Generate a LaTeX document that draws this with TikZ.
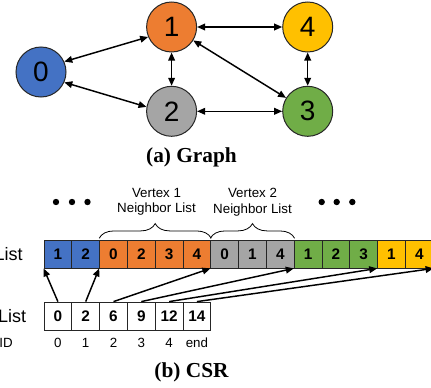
\documentclass[tikz,border=0pt]{standalone}
\usepackage{fontspec}
\setmainfont{Liberation Serif}
\setsansfont{Liberation Sans}
\usetikzlibrary{arrows.meta,decorations.pathreplacing}
\definecolor{vblue}{HTML}{4472C4}
\definecolor{vorange}{HTML}{ED7D31}
\definecolor{vgray}{HTML}{A5A5A5}
\definecolor{vgreen}{HTML}{70AD47}
\definecolor{vyellow}{HTML}{FFC000}
\begin{document}
\begin{tikzpicture}[x=0.75pt,y=0.75pt,font=\sffamily,
 vertex/.style={circle,draw=black!85,line width=0.75pt,minimum size=37.5pt,inner sep=0pt,font=\sffamily\fontsize{21}{21}\selectfont},
 edge/.style={{Triangle[length=6pt,width=5pt]}-{Triangle[length=6pt,width=5pt]},line width=1.1pt},
 ptr/.style={-{Triangle[length=6pt,width=5pt]},line width=1.1pt},
 cell/.style={draw=black!85,line width=0.6pt,minimum width=20.85pt,minimum height=21pt,inner sep=0pt,font=\sffamily\bfseries\fontsize{11.5}{12}\selectfont},
 caption/.style={font=\rmfamily\bfseries\fontsize{16}{16}\selectfont},
 side/.style={anchor=east,inner sep=0pt},
 nbrace/.style={decorate,decoration={brace,amplitude=11pt},line width=0.6pt},
 blabel/.style={align=center,font=\sffamily\fontsize{10}{11.6}\selectfont}]
\useasboundingbox (0,0) rectangle (431,387);
%graph
	%vertices
	\node[vertex,fill=vblue] (n0) at (41,315) {0};
	\node[vertex,fill=vorange] (n1) at (171.6,360) {1};
	\node[vertex,fill=vgray] (n2) at (171.6,275.7) {2};
	\node[vertex,fill=vgreen] (n3) at (307.7,275.7) {3};
	\node[vertex,fill=vyellow] (n4) at (307.7,360) {4};
	%edges
	\draw[edge] (n0.24) -- (n1.203); %0-1
	\draw[edge] (n0.336) -- (n2.170); %0-2
	\draw[edge] (n1) -- (n2); %1-2
	\draw[edge] (n1) -- (n4); %1-4
	\draw[edge] (n1) -- (n3); %1-3
	\draw[edge] (n2) -- (n3); %2-3
	\draw[edge] (n4) -- (n3); %4-3
	\node[caption] (capa) at (191.5,230) {(a) Graph}; %caption a
%CSR-------------------------------
	%neighbor list
	\foreach \val/\col [count=\k from 0] in {1/vblue,2/vblue,0/vorange,2/vorange,3/vorange,4/vorange,0/vgray,1/vgray,4/vgray,1/vgreen,2/vgreen,3/vgreen,1/vyellow,4/vyellow}
		\node[cell,fill=\col] (e\k) at (57.9+27.8*\k,133) {\val};
	%offset list
	\foreach \val [count=\k from 0] in {0,2,6,9,12,14}
		\node[cell,fill=white] (o\k) at (57.9+27.8*\k,71) {\val};
	%vertex ids
	\foreach \val [count=\k from 0] in {0,1,2,3,4,end}
		\node[font=\sffamily\fontsize{10}{10}\selectfont] (id\k) at (57.9+27.8*\k,44) {\val};
	%row labels
	\node[side,font=\sffamily\fontsize{13.5}{14}\selectfont] (lnbr) at (23,133) {List};
	\node[side,font=\sffamily\fontsize{13.5}{14}\selectfont] (loff) at (26.5,71) {List};
	\node[side,font=\sffamily\fontsize{10}{10}\selectfont] (lid) at (13,44) {ID};
	%braces
	\draw[nbrace] ([yshift=1pt]e2.north west) -- ([yshift=1pt]e5.north east);
	\draw[nbrace] ([yshift=1pt]e6.north west) -- ([yshift=1pt]e8.north east);
	\node[blabel] (v1) at (156.5,185) {Vertex 1\\Neighbor List}; %vertex 1
	\node[blabel] (v2) at (252.5,185) {Vertex 2\\Neighbor List}; %vertex 2
	%dots
	\foreach \x in {56,72,87.5,321.7,336.7,352.3}
		\fill (\x,185) circle (3.2);
	%offset arrows
	\draw[ptr] (o0.north) -- (e0.south west);
	\draw[ptr] (o1.north) -- (e2.south west);
	\draw[ptr] (o2.north) -- (e6.south west);
	\draw[ptr] (o3.north) -- (e9.south west);
	\draw[ptr] (o4.north) -- (e12.south west);
	\draw[ptr] (o5.north) -- (e13.south east);
	\node[caption] (capb) at (191.5,14.5) {(b) CSR}; %caption b
\end{tikzpicture}
\end{document}
